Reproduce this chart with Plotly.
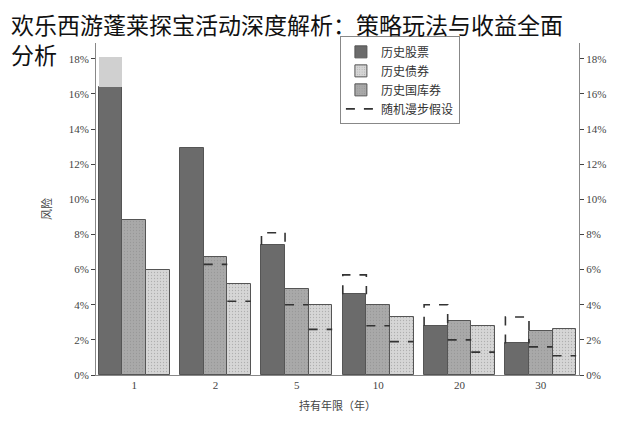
import plotly.graph_objects as go

years = ["1", "2", "5", "10", "20", "30"]
stocks = [16.4, 12.9, 7.4, 4.6, 2.8, 1.8]
bills = [8.8, 6.7, 4.9, 4.0, 3.1, 2.5]
bonds = [6.0, 5.2, 4.0, 3.3, 2.8, 2.6]
rw_stocks = [18.1, None, 8.1, 5.7, 4.0, 3.3]
rw_bills = [None, 6.3, 4.0, 2.8, 2.0, 1.6]
rw_bonds = [None, 4.2, 2.6, 1.9, 1.3, 1.1]
yticks = [0, 2, 4, 6, 8, 10, 12, 14, 16, 18]

W = 0.29
offs = [-W, 0, W]
xs = list(range(len(years)))
fig = go.Figure()
series = [(stocks, "历史股票", "#6b6b6b", 1), (bills, "历史国库券", "#a9a9a9", 3), (bonds, "历史债券", "#d6d6d6", 2)]
for i, (vals, name, col, rank) in enumerate(series):
    fig.add_trace(go.Bar(x=[x + offs[i] for x in xs], y=vals, width=W, name=name, legendrank=rank,
                         marker=dict(color=col, line=dict(color="#555", width=1),
                                     pattern=dict(shape="." if i else "", size=3, solidity=0.15, fgcolor="#888"))))
fig.add_trace(go.Bar(x=[xs[0] + offs[0]], y=[rw_stocks[0] - stocks[0]], base=[stocks[0]], width=W,
                     marker=dict(color="#d0d0d0", line=dict(width=0)), showlegend=False))
first = True
for i, (rw, vals) in enumerate([(rw_stocks, stocks), (rw_bills, bills), (rw_bonds, bonds)]):
    for k, x in enumerate(xs):
        r = rw[k]
        if r is None or (i == 0 and k == 0):
            continue
        cx = x + offs[i]
        lo = min(r, vals[k])
        fig.add_trace(go.Scatter(x=[cx - W / 2, cx - W / 2, cx + W / 2, cx + W / 2], y=[lo, r, r, lo],
                                 mode="lines", line=dict(color="#333", width=1.6, dash="dash"),
                                 name="随机漫步假设", legendrank=5, showlegend=first))
        first = False
fig.add_trace(go.Scatter(x=[0], y=[0], yaxis="y2", mode="markers", marker=dict(opacity=0), showlegend=False, hoverinfo="skip"))

tickfont = dict(family="Liberation Serif, Noto Sans CJK SC", size=11, color="#444")
fig.update_layout(
    width=626, height=422, paper_bgcolor="white", plot_bgcolor="white",
    margin=dict(l=88, r=55, t=35, b=55), bargap=0, barmode="overlay",
    xaxis=dict(range=[-0.47, 5.47], tickvals=xs, ticktext=years, showline=True, linecolor="#888",
               ticks="", tickfont=tickfont, showgrid=False, zeroline=False,
               title=dict(text="持有年限（年）", font=dict(family="Noto Sans CJK SC", size=11, color="#444"), standoff=12)),
    yaxis=dict(range=[0, 18.9], tickvals=yticks, ticktext=[f"{v}%" for v in yticks], ticks="outside", ticklen=4,
               showline=True, linecolor="#888", tickfont=tickfont, showgrid=False, zeroline=False,
               title=dict(text="风险", font=dict(family="Noto Sans CJK SC", size=11, color="#444"), standoff=14)),
    yaxis2=dict(overlaying="y", side="right", range=[0, 18.9], tickvals=yticks, ticktext=[f"{v}%" for v in yticks],
                ticks="outside", ticklen=4, showline=True, linecolor="#888", tickfont=tickfont, showgrid=False, zeroline=False),
    legend=dict(x=0.505, y=1.02, xanchor="left", yanchor="top", bgcolor="white", bordercolor="#888", borderwidth=1,
                font=dict(family="Noto Sans CJK SC", size=12, color="#333"), itemwidth=30, tracegroupgap=4,
                entrywidth=190),
    showlegend=True,
)
fig.add_annotation(text="欢乐西游蓬莱探宝活动深度解析：策略玩法与收益全面<br>分析", xref="paper", yref="paper",
                   x=-0.18, y=1.115, xanchor="left", yanchor="top", showarrow=False, align="left",
                   font=dict(family="Noto Sans CJK SC", size=23, color="#111"))
fig.write_html("out.html")
